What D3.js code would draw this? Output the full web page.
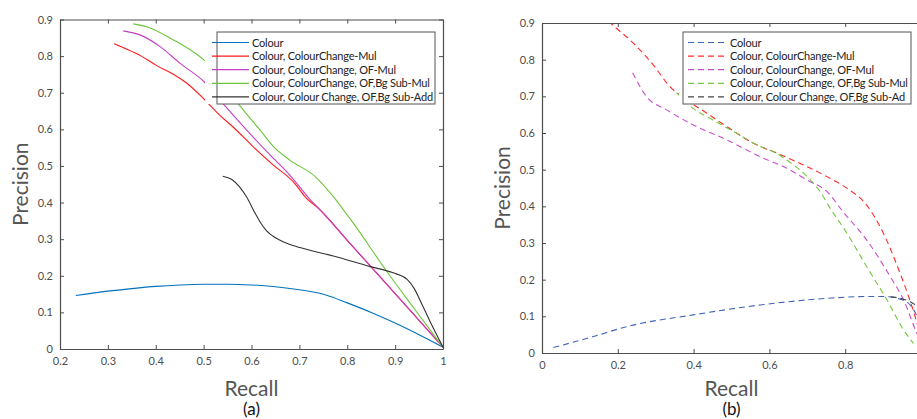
<!DOCTYPE html>
<html>
<head>
<meta charset="utf-8">
<script src="https://cdn.jsdelivr.net/npm/d3@7"></script>
<style>
  html, body { margin: 0; padding: 0; background: #fff; }
  svg { display: block; font-family: Lato, "Open Sans", sans-serif; }
</style>
</head>
<body>
<svg id="chart" width="917" height="419"></svg>
<script>
// ---- Tick values ----
const recallTicksA = [0.2, 0.3, 0.4, 0.5, 0.6, 0.7, 0.8, 0.9, 1];
const recallTicksB = [0, 0.2, 0.4, 0.6, 0.8];
const precisionTicks = [0, 0.1, 0.2, 0.3, 0.4, 0.5, 0.6, 0.7, 0.8, 0.9];

// ---- Legend entries ----
const legendA = ["Colour", "Colour, ColourChange-Mul", "Colour, ColourChange, OF-Mul",
                 "Colour, ColourChange, OF,Bg Sub-Mul", "Colour, Colour Change, OF,Bg Sub-Add"];
const legendB = ["Colour", "Colour, ColourChange-Mul", "Colour, ColourChange, OF-Mul",
                 "Colour, ColourChange, OF,Bg Sub-Mul", "Colour, Colour Change, OF,Bg Sub-Ad"];

// ---- Panel (a): [recall, precision] ----
const aColour = [[0.233,0.146],[0.3,0.158],[0.35,0.165],[0.4,0.171],[0.45,0.175],[0.5,0.177],
  [0.55,0.177],[0.6,0.175],[0.65,0.170],[0.7,0.162],[0.74,0.153],[0.757,0.147],[0.8,0.126],
  [0.85,0.100],[0.9,0.071],[0.95,0.039],[1.0,0.005]];
const aColourChange = [[0.313,0.834],[0.336,0.821],[0.37,0.800],[0.402,0.774],[0.435,0.752],
  [0.465,0.726],[0.503,0.680],[0.535,0.637],[0.561,0.607],[0.603,0.553],[0.645,0.503],
  [0.687,0.457],[0.716,0.410],[0.740,0.384],[0.8,0.297],[0.9,0.151],[1.0,0.005]];
const aOF = [[0.332,0.869],[0.367,0.858],[0.409,0.826],[0.451,0.780],[0.501,0.730],
  [0.540,0.671],[0.590,0.598],[0.632,0.539],[0.680,0.475],[0.722,0.409],[0.743,0.380],
  [0.8,0.297],[0.9,0.151],[1.0,0.005]];
const aBgSubMul = [[0.353,0.888],[0.381,0.880],[0.437,0.844],[0.478,0.812],[0.501,0.789],
  [0.54,0.728],[0.576,0.664],[0.618,0.598],[0.646,0.553],[0.680,0.516],[0.733,0.471],
  [0.771,0.416],[0.792,0.380],[0.813,0.343],[0.882,0.213],[0.94,0.110],[1.0,0.005]];
const aBgSubAdd = [[0.540,0.472],[0.559,0.463],[0.575,0.443],[0.590,0.415],[0.605,0.377],
  [0.618,0.347],[0.632,0.322],[0.650,0.304],[0.666,0.293],[0.701,0.277],[0.771,0.254],
  [0.848,0.225],[0.896,0.208],[0.925,0.190],[0.940,0.165],[0.955,0.125],[0.973,0.075],[1.0,0.005]];

// ---- Panel (b): [recall, precision] ----
const bColour = [[0.030,0.015],[0.136,0.045],[0.224,0.072],[0.399,0.104],[0.576,0.131],
  [0.752,0.149],[0.850,0.154],[0.901,0.154],[0.937,0.149],[0.962,0.140],[0.985,0.110],[1.0,0.075]];
const bColourChange = [[0.175,0.905],[0.197,0.885],[0.241,0.845],[0.294,0.785],[0.338,0.726],
  [0.382,0.690],[0.435,0.654],[0.488,0.617],[0.558,0.572],[0.620,0.545],[0.681,0.517],
  [0.752,0.481],[0.805,0.449],[0.853,0.408],[0.901,0.326],[0.945,0.217],[0.972,0.140],[1.0,0.045]];
const bOF = [[0.239,0.764],[0.276,0.699],[0.329,0.663],[0.399,0.622],[0.488,0.581],
  [0.576,0.535],[0.646,0.504],[0.699,0.472],[0.752,0.440],[0.796,0.383],[0.857,0.308],
  [0.919,0.208],[0.954,0.145],[0.989,0.054],[1.0,0.030]];
const bBgSubMul = [[0.355,0.710],[0.399,0.667],[0.452,0.635],[0.514,0.599],[0.576,0.563],
  [0.611,0.549],[0.646,0.526],[0.681,0.499],[0.708,0.472],[0.734,0.440],[0.756,0.402],
  [0.805,0.326],[0.857,0.235],[0.910,0.145],[0.954,0.063],[0.980,0.026]];
const bBgSubAdd = [[0.920,0.153],[0.950,0.148],[0.975,0.138],[1.0,0.120]];

const coloursA = ["#0072BD", "#ff1a1a", "#c43fc4", "#6cc43a", "#333333"];
const coloursB = ["#3e63b8", "#ff2a2a", "#c84cc8", "#74c83e", "#444444"];

const svg = d3.select("#chart");
const axisGrey = "#4d4d4d";

function drawPanel(cfg) {
  const x = d3.scaleLinear().domain(cfg.xDomain).range([cfg.left, cfg.right]);
  const y = d3.scaleLinear().domain([0, 0.9]).range([cfg.bottom, cfg.top]);
  const g = svg.append("g");

  const clipId = "clip-" + cfg.id;
  svg.append("defs").append("clipPath").attr("id", clipId)
    .append("rect").attr("x", cfg.left).attr("y", cfg.top)
    .attr("width", cfg.right - cfg.left).attr("height", cfg.bottom - cfg.top);

  // curves
  const line = d3.line().x(d => x(d[0])).y(d => y(d[1])).curve(d3.curveMonotoneX);
  const lines = g.append("g").attr("clip-path", `url(#${clipId})`);
  cfg.series.forEach((s, i) => {
    lines.append("path").datum(s).attr("d", line)
      .attr("fill", "none").attr("stroke", cfg.colours[i]).attr("stroke-width", 1.1)
      .attr("stroke-dasharray", cfg.dash || null);
  });

  // axes (ticks point inward on all four sides)
  const fmt = d => String(d);
  const styleAxis = sel => {
    sel.select(".domain").attr("stroke", axisGrey).attr("stroke-width", 1.2);
    sel.selectAll(".tick line").attr("stroke", axisGrey);
    sel.selectAll(".tick text").attr("fill", axisGrey).style("font-size", "11px")
      .style("font-family", "Lato, 'Open Sans', sans-serif");
  };
  g.append("g").attr("transform", `translate(0,${cfg.bottom})`)
    .call(d3.axisBottom(x).tickValues(cfg.xTicks).tickSize(-4).tickSizeOuter(0).tickPadding(8).tickFormat(fmt))
    .call(styleAxis);
  g.append("g").attr("transform", `translate(0,${cfg.top})`)
    .call(d3.axisTop(x).tickValues(cfg.xTicks).tickSize(-4).tickSizeOuter(0).tickFormat(""))
    .call(styleAxis);
  g.append("g").attr("transform", `translate(${cfg.left},0)`)
    .call(d3.axisLeft(y).tickValues(precisionTicks).tickSize(-4).tickSizeOuter(0).tickPadding(7).tickFormat(fmt))
    .call(styleAxis);
  g.append("g").attr("transform", `translate(${cfg.right},0)`)
    .call(d3.axisRight(y).tickValues(precisionTicks).tickSize(-4).tickSizeOuter(0).tickFormat(""))
    .call(styleAxis);

  // legend: opaque background hides curves behind it
  const lg = g.append("g");
  lg.append("rect").attr("x", cfg.legend.bgLeft).attr("y", cfg.legend.top)
    .attr("width", cfg.legend.right - cfg.legend.bgLeft).attr("height", cfg.legend.bottom - cfg.legend.top)
    .attr("fill", "#fff");
  lg.append("rect").attr("x", cfg.legend.left).attr("y", cfg.legend.top)
    .attr("width", cfg.legend.right - cfg.legend.left).attr("height", cfg.legend.bottom - cfg.legend.top)
    .attr("fill", "none").attr("stroke", "#555").attr("stroke-width", 1);
  cfg.labels.forEach((t, i) => {
    const yy = cfg.legend.top + 10.5 + i * 13.6;
    lg.append("line").attr("x1", cfg.legend.lineX0).attr("x2", cfg.legend.lineX1)
      .attr("y1", yy).attr("y2", yy).attr("stroke", cfg.colours[i]).attr("stroke-width", 1.2)
      .attr("stroke-dasharray", cfg.dash || null);
    lg.append("text").attr("x", cfg.legend.textX).attr("y", yy + 4)
      .attr("fill", "#222").style("font-size", "11px").style("letter-spacing", "-0.2px").text(t);
  });

  // axis titles and caption
  const cx = (cfg.left + cfg.right) / 2, cy = (cfg.top + cfg.bottom) / 2;
  g.append("text").attr("x", cx).attr("y", 396).attr("text-anchor", "middle")
    .attr("fill", "#555").style("font-size", "21px").text("Recall");
  g.append("text").attr("transform", `translate(${cfg.yTitleX},${cy}) rotate(-90)`)
    .attr("text-anchor", "middle").attr("fill", "#555").style("font-size", "21px").text("Precision");
  g.append("text").attr("x", cx).attr("y", 415).attr("text-anchor", "middle")
    .attr("fill", "#111").style("font-size", "17px").text(cfg.caption);
}

drawPanel({
  id: "a", left: 60, right: 443, top: 19.5, bottom: 349, xDomain: [0.2, 1],
  xTicks: recallTicksA, series: [aColour, aColourChange, aOF, aBgSubMul, aBgSubAdd],
  colours: coloursA, labels: legendA, yTitleX: 28, caption: "(a)",
  legend: { bgLeft: 205, left: 217, right: 435, top: 32, bottom: 104, lineX0: 212, lineX1: 249, textX: 252 }
});

drawPanel({
  id: "b", left: 542, right: 921, top: 23, bottom: 353, xDomain: [0, 1],
  xTicks: recallTicksB, series: [bColour, bColourChange, bOF, bBgSubMul, bBgSubAdd],
  colours: coloursB, labels: legendB, yTitleX: 510, caption: "(b)", dash: "6,4",
  legend: { bgLeft: 679, left: 683, right: 911, top: 32, bottom: 104, lineX0: 688, lineX1: 727, textX: 730 }
});
</script>
</body>
</html>
